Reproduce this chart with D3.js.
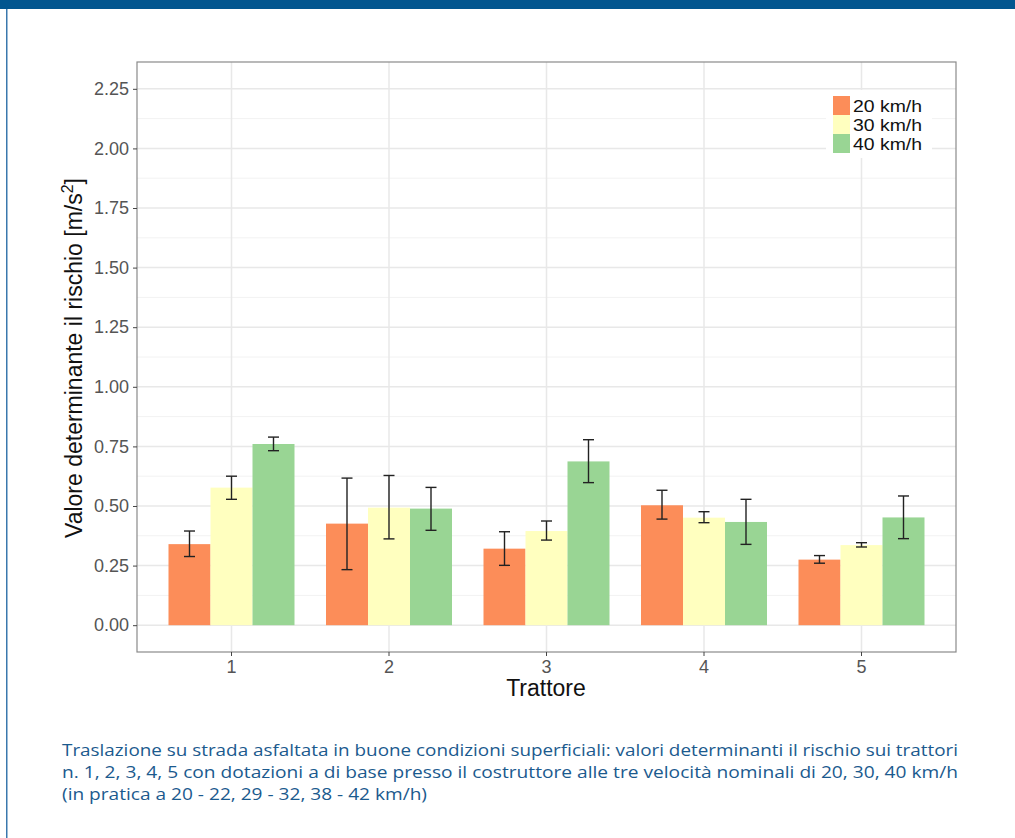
<!DOCTYPE html>
<html>
<head>
<meta charset="utf-8">
<script src="https://cdn.jsdelivr.net/npm/d3@7"></script>
<style>
  body { margin: 0; background: #fff; }
  svg { display: block; }
</style>
</head>
<body>
<div id="chart"></div>
<script>
// data
const trattori = ['1', '2', '3', '4', '5'];
const velocita = ['20 km/h', '30 km/h', '40 km/h'];
const colori = ['#fc8d59', '#ffffbf', '#99d594'];

// mean values per tractor, one array per speed
const v20 = [0.340, 0.426, 0.321, 0.503, 0.275];
const v30 = [0.577, 0.493, 0.395, 0.451, 0.336];
const v40 = [0.760, 0.489, 0.687, 0.433, 0.452];

// error bar ends
const lo20 = [0.288, 0.233, 0.251, 0.445, 0.260];
const hi20 = [0.395, 0.617, 0.392, 0.566, 0.292];
const lo30 = [0.528, 0.362, 0.357, 0.430, 0.328];
const hi30 = [0.625, 0.628, 0.437, 0.476, 0.346];
const lo40 = [0.732, 0.398, 0.598, 0.339, 0.363];
const hi40 = [0.789, 0.578, 0.778, 0.528, 0.542];

const yTicks = [0, 0.25, 0.5, 0.75, 1, 1.25, 1.5, 1.75, 2, 2.25];

const caption = [
  'Traslazione su strada asfaltata in buone condizioni superficiali: valori determinanti il rischio sui trattori',
  'n. 1, 2, 3, 4, 5 con dotazioni a di base presso il costruttore alle tre velocità nominali di 20, 30, 40 km/h',
  '(in pratica a 20 - 22, 29 - 32, 38 - 42 km/h)'
];

const W = 1015, H = 838;
const panel = { left: 137, right: 956, top: 62, bottom: 652 };
const sans = '"Liberation Sans", Arial, sans-serif';

const values = [v20, v30, v40];
const lows = [lo20, lo30, lo40];
const highs = [hi20, hi30, hi40];

var rows = [];
trattori.forEach((t, i) => {
  velocita.forEach((v, j) => {
    rows.push({ t: t, v: v, j: j, val: values[j][i], lo: lows[j][i], hi: highs[j][i] });
  });
});

const svg = d3.select('#chart').append('svg')
  .attr('width', W).attr('height', H);

// page frame: blue top band and left rule
svg.append('rect').attr('x', 0).attr('y', 0).attr('width', W).attr('height', 9).attr('fill', '#02568f');
svg.append('rect').attr('x', 6).attr('y', 9).attr('width', 1.5).attr('height', H - 9).attr('fill', '#3a78ad');

// scales (ggplot style expansion: 0.6 of a step each side)
const x = d3.scaleBand()
  .domain(trattori)
  .range([panel.left, panel.right])
  .paddingInner(0.2).paddingOuter(0.2);
const xc = d => x(d) + x.bandwidth() / 2;
const inner = d3.scaleBand().domain(velocita).range([0, x.bandwidth()]);

const y = d3.scaleLinear()
  .domain([-0.1125, 2.3625])
  .range([panel.bottom, panel.top]);

// grid
const g = svg.append('g');
const minor = d3.range(0.125, 2.3, 0.25);
g.selectAll('.minor').data(minor).enter().append('line')
  .attr('x1', panel.left).attr('x2', panel.right)
  .attr('y1', d => y(d)).attr('y2', d => y(d))
  .attr('stroke', '#f2f2f2').attr('stroke-width', 1);
g.selectAll('.major').data(yTicks).enter().append('line')
  .attr('x1', panel.left).attr('x2', panel.right)
  .attr('y1', d => y(d)).attr('y2', d => y(d))
  .attr('stroke', '#e8e8e8').attr('stroke-width', 1.5);
g.selectAll('.vgrid').data(trattori).enter().append('line')
  .attr('x1', d => xc(d)).attr('x2', d => xc(d))
  .attr('y1', panel.top).attr('y2', panel.bottom)
  .attr('stroke', '#e8e8e8').attr('stroke-width', 1.5);

// bars
svg.selectAll('rect.bar').data(rows).enter().append('rect')
  .attr('class', 'bar')
  .attr('x', d => x(d.t) + inner(d.v))
  .attr('width', inner.bandwidth())
  .attr('y', d => y(d.val))
  .attr('height', d => y(0) - y(d.val))
  .attr('fill', d => colori[d.j]);

// error bars
const cap = 5.5;
const eb = svg.selectAll('g.err').data(rows).enter().append('g')
  .attr('stroke', '#222').attr('stroke-width', 1.4);
eb.append('line')
  .attr('x1', d => x(d.t) + inner(d.v) + inner.bandwidth() / 2)
  .attr('x2', d => x(d.t) + inner(d.v) + inner.bandwidth() / 2)
  .attr('y1', d => y(d.lo)).attr('y2', d => y(d.hi));
['lo', 'hi'].forEach(k => {
  eb.append('line')
    .attr('x1', d => x(d.t) + inner(d.v) + inner.bandwidth() / 2 - cap)
    .attr('x2', d => x(d.t) + inner(d.v) + inner.bandwidth() / 2 + cap)
    .attr('y1', d => y(d[k])).attr('y2', d => y(d[k]));
});

// panel border
svg.append('rect')
  .attr('x', panel.left).attr('y', panel.top)
  .attr('width', panel.right - panel.left).attr('height', panel.bottom - panel.top)
  .attr('fill', 'none').attr('stroke', '#8a8a8a').attr('stroke-width', 1.2);

// axes
const yAxis = d3.axisLeft(y).tickValues(yTicks).tickFormat(d3.format('.2f')).tickSize(4).tickPadding(4);
const xAxis = d3.axisBottom(x).tickSize(4).tickPadding(4);

const ya = svg.append('g').attr('transform', `translate(${panel.left},0)`).call(yAxis);
const xa = svg.append('g').attr('transform', `translate(0,${panel.bottom})`).call(xAxis);
[ya, xa].forEach(a => {
  a.select('.domain').remove();
  a.selectAll('line').attr('stroke', '#444');
  a.selectAll('text')
    .attr('fill', '#555')
    .style('font-family', sans)
    .style('font-size', '18px');
});

// axis titles
svg.append('text')
  .attr('x', 546).attr('y', 696)
  .attr('text-anchor', 'middle')
  .style('font-family', sans)
  .style('font-size', '23px').attr('fill', '#111')
  .text('Trattore');

const yt = svg.append('text')
  .attr('transform', `translate(82,358) rotate(-90)`)
  .attr('text-anchor', 'middle')
  .style('font-family', sans)
  .style('font-size', '23px').attr('fill', '#111');
yt.append('tspan').text('Valore determinante il rischio [m/s');
yt.append('tspan').attr('dy', -9).style('font-size', '16px').text('2');
yt.append('tspan').attr('dy', 9).text(']');

// legend
const row = 19;
const leg = svg.append('g').attr('transform', 'translate(826,90)');
leg.append('rect').attr('x', 0).attr('y', 0).attr('width', 106).attr('height', 68).attr('fill', '#fff');
velocita.forEach((v, j) => {
  leg.append('rect')
    .attr('x', 7).attr('y', 6 + j * row)
    .attr('width', 17).attr('height', row)
    .attr('fill', colori[j]);
  leg.append('text')
    .attr('x', 27).attr('y', 21.5 + j * row)
    .attr('textLength', 69)
    .attr('lengthAdjust', 'spacingAndGlyphs')
    .style('font-family', sans)
    .style('font-size', '16.5px').attr('fill', '#111')
    .text(v);
});

// caption
const capEnds = [958, 958, 427];
caption.forEach((line, i) => {
  svg.append('text')
    .attr('x', 62).attr('y', 756 + i * 22)
    .attr('textLength', capEnds[i] - 62)
    .attr('lengthAdjust', 'spacingAndGlyphs')
    .style('font-family', '"Open Sans", sans-serif')
    .style('font-size', '17px').attr('fill', '#1b5a8e')
    .text(line);
});
</script>
</body>
</html>
